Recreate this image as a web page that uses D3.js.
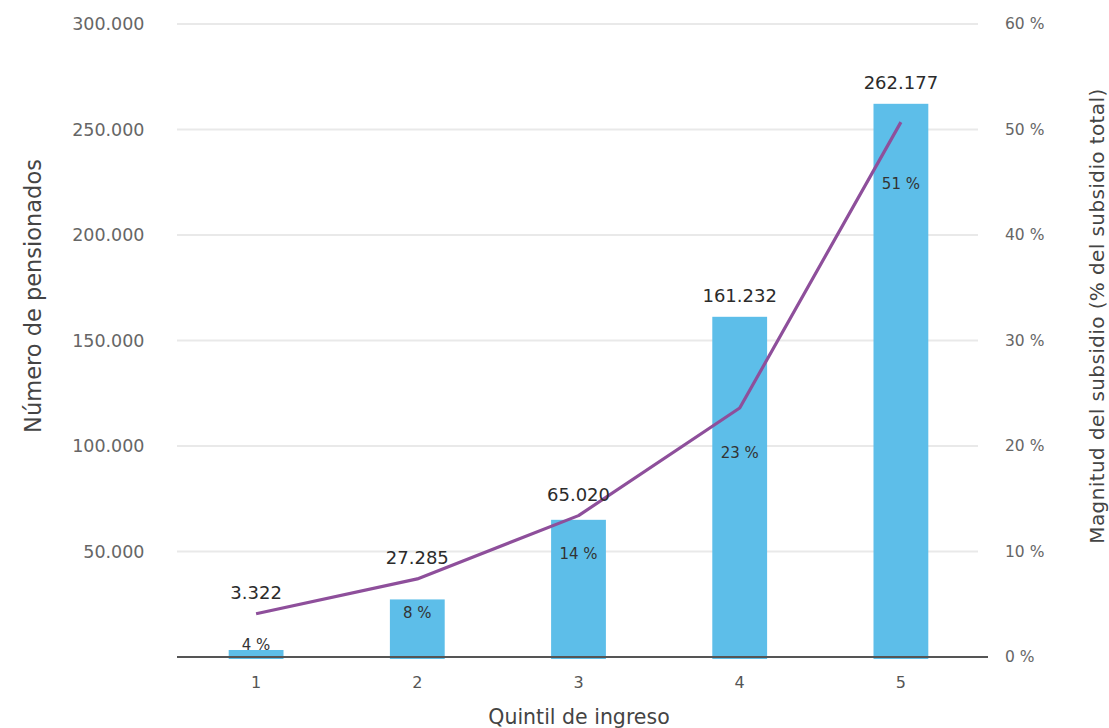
<!DOCTYPE html>
<html>
<head>
<meta charset="utf-8">
<script src="https://cdn.jsdelivr.net/npm/d3@7"></script>
<style>
  body { margin: 0; background: #fff; }
  svg { display: block; }
  text { font-family: "DejaVu Sans", "Liberation Sans", sans-serif; }
</style>
</head>
<body>
<svg id="chart" width="1109" height="728"></svg>
<script>
// ---- data ----
const quintiles = ["1", "2", "3", "4", "5"];
const pensionados = [3322, 27285, 65020, 161232, 262177];
const subsidioPct = [4.1, 7.4, 13.4, 23.6, 50.7];
const subsidioLabels = ["4 %", "8 %", "14 %", "23 %", "51 %"];
const leftTicks = [50000, 100000, 150000, 200000, 250000, 300000];
const rightTicks = [0, 10, 20, 30, 40, 50, 60];

// ---- layout ----
const x0 = 175.5, x1 = 981.5, yBase = 657, yTop = 24;
const pctLabelOffset = [31, 34, 38, 45, 62];
const FONT = '"DejaVu Sans", sans-serif';

const svg = d3.select("#chart");
const loc = d3.formatLocale({ decimal: ",", thousands: ".", grouping: [3], currency: ["", ""] });
const fmt = loc.format(",");

const x = d3.scaleBand().domain(quintiles).range([x0, x1]).paddingInner(0.66).paddingOuter(0.33);
const yL = d3.scaleLinear().domain([0, 300000]).range([yBase, yTop]);
const yR = d3.scaleLinear().domain([0, 60]).range([yBase, yTop]);

// gridlines
svg.append("g").selectAll("line").data(leftTicks).join("line")
  .attr("x1", 177).attr("x2", 978)
  .attr("y1", d => yL(d)).attr("y2", d => yL(d))
  .attr("stroke", "#e9e9e9").attr("stroke-width", 2);

// bars
svg.append("g").selectAll("rect").data(pensionados).join("rect")
  .attr("x", (d, i) => x(quintiles[i]))
  .attr("width", x.bandwidth())
  .attr("y", d => yL(d))
  .attr("height", d => yBase - yL(d) + 2)
  .attr("fill", "#5dbee9");

// baseline
svg.append("line").attr("x1", 177).attr("x2", 988).attr("y1", yBase).attr("y2", yBase)
  .attr("stroke", "#555").attr("stroke-width", 2);

// left axis
const axL = svg.append("g").attr("transform", `translate(${x0},0)`)
  .call(d3.axisLeft(yL).tickValues(leftTicks).tickFormat(fmt).tickSize(0).tickPadding(31));
axL.select(".domain").remove();
axL.selectAll("text").attr("font-size", 17.5).attr("fill", "#666").style("font-family", FONT);

// right axis
const axR = svg.append("g").attr("transform", `translate(988,0)`)
  .call(d3.axisRight(yR).tickValues(rightTicks).tickFormat(d => d + " %").tickSize(0).tickPadding(17));
axR.select(".domain").remove();
axR.selectAll("text").attr("font-size", 15.5).attr("fill", "#666").style("font-family", FONT);

// bottom axis
const axB = svg.append("g").attr("transform", `translate(0,${yBase})`)
  .call(d3.axisBottom(x).tickSize(0).tickPadding(20));
axB.select(".domain").remove();
axB.selectAll("text").attr("font-size", 16).attr("fill", "#555").style("font-family", FONT);

// line
const cx = q => x(q) + x.bandwidth() / 2;
const lineGen = d3.line().x((d, i) => cx(quintiles[i])).y(d => yR(d));
svg.append("path").datum(subsidioPct).attr("d", lineGen)
  .attr("fill", "none").attr("stroke", "#8e4f9b").attr("stroke-width", 3.2)
  .attr("stroke-linejoin", "round");

// value labels
svg.append("g").selectAll("text").data(pensionados).join("text")
  .attr("x", (d, i) => cx(quintiles[i]))
  .attr("y", (d, i) => Math.min(yL(d), yR(subsidioPct[i])) - 21)
  .attr("dy", "0.35em")
  .attr("text-anchor", "middle").attr("font-size", 18).attr("fill", "#2b2b2b")
  .text(d => fmt(d));

// percent labels
svg.append("g").selectAll("text").data(subsidioLabels).join("text")
  .attr("x", (d, i) => cx(quintiles[i]))
  .attr("y", (d, i) => yR(subsidioPct[i]) + pctLabelOffset[i])
  .attr("dy", "0.35em")
  .attr("text-anchor", "middle").attr("font-size", 15).attr("fill", "#333")
  .text(d => d);

// axis titles
svg.append("text").attr("transform", "translate(41,296) rotate(-90)")
  .attr("text-anchor", "middle").attr("font-size", 22.5).attr("fill", "#444")
  .text("Número de pensionados");
svg.append("text").attr("transform", "translate(1104,316) rotate(-90)")
  .attr("text-anchor", "middle").attr("font-size", 20).attr("fill", "#444")
  .attr("letter-spacing", 0.4)
  .text("Magnitud del subsidio (% del subsidio total)");
svg.append("text").attr("x", 579).attr("y", 724)
  .attr("text-anchor", "middle").attr("font-size", 20.5).attr("fill", "#444")
  .text("Quintil de ingreso");
</script>
</body>
</html>
